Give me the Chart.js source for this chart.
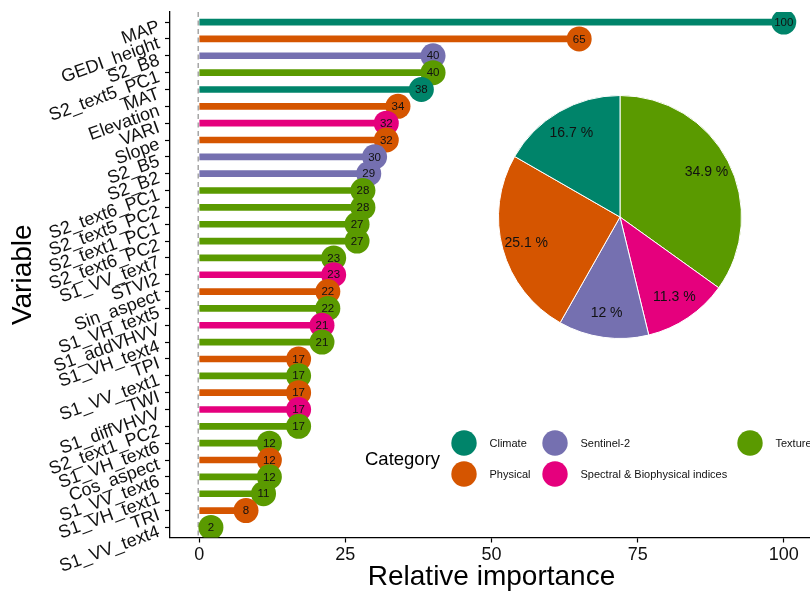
<!DOCTYPE html>
<html>
<head>
<meta charset="utf-8">
<script src="https://cdn.jsdelivr.net/npm/chart.js@4/dist/chart.umd.min.js"></script>
<style>
  html, body { margin: 0; padding: 0; background: #fff; overflow: hidden; width: 810px; height: 594px; }
  #wrap { position: relative; width: 813px; height: 594px; }
  #main { position: absolute; left: 0; top: 0; }
  #pie { position: absolute; left: 495px; top: 92px; }
</style>
</head>
<body>
<div id="wrap">
  <canvas id="main" width="813" height="594"></canvas>
  <canvas id="pie" width="250" height="250"></canvas>
</div>
<script>
// Predictor variables, ordered from most to least important
const variables = [
  'MAP', 'GEDI_height', 'S2_B8', 'S2_text5_PC1', 'MAT', 'Elevation', 'VARI', 'Slope',
  'S2_B5', 'S2_B2', 'S2_text6_PC1', 'S2_text5_PC2', 'S2_text1_PC1', 'S2_text6_PC2',
  'S1_VV_text7', 'STVI2', 'Sin_aspect', 'S1_VH_text5', 'S1_addVHVV', 'S1_VH_text4',
  'TPI', 'S1_VV_text1', 'TWI', 'S1_diffVHVV', 'S2_text1_PC2', 'S1_VH_text6',
  'Cos_aspect', 'S1_VV_text6', 'S1_VH_text1', 'TRI', 'S1_VV_text4'
];
const importance = [
  100, 65, 40, 40, 38, 34, 32, 32,
  30, 29, 28, 28, 27, 27,
  23, 23, 22, 22, 21, 21,
  17, 17, 17, 17, 17, 12,
  12, 12, 11, 8, 2
];
const groups = [
  'Climate', 'Physical', 'Sentinel-2', 'Texture', 'Climate', 'Physical',
  'Spectral & Biophysical indices', 'Physical',
  'Sentinel-2', 'Sentinel-2', 'Texture', 'Texture', 'Texture', 'Texture',
  'Texture', 'Spectral & Biophysical indices', 'Physical', 'Texture',
  'Spectral & Biophysical indices', 'Texture',
  'Physical', 'Texture', 'Physical', 'Spectral & Biophysical indices', 'Texture', 'Texture',
  'Physical', 'Texture', 'Texture', 'Physical', 'Texture'
];

const categories = ['Climate', 'Physical', 'Sentinel-2', 'Spectral & Biophysical indices', 'Texture'];
const categoryColors = ['#00846a', '#d55500', '#7570b0', '#e5007d', '#5a9a00'];
const xTicks = [0, 25, 50, 75, 100];

// Share of total importance per category (%), in drawing order from 12 o'clock
const pieLabels = ['Texture', 'Spectral & Biophysical indices', 'Sentinel-2', 'Physical', 'Climate'];
const pieShares = [34.9, 11.3, 12, 25.1, 16.7];

const FONT = "'Liberation Sans', Arial, Helvetica, sans-serif";
Chart.defaults.font.family = FONT;
Chart.defaults.color = '#000';

const colorOf = g => categoryColors[categories.indexOf(g)];
const rows = variables.map((v, i) => ({ x: importance[i], y: i }));
const rowColors = groups.map(colorOf);

// keep the plot panel at a fixed size: no extra room reserved for overhanging tick labels
function fixBox(size, horizontal) {
  return s => {
    if (horizontal) s.height = size; else s.width = size;
    s.paddingLeft = 0; s.paddingRight = 0; s.paddingTop = 0; s.paddingBottom = 0;
  };
}

// dashed reference line at zero
const zeroLine = {
  id: 'zeroLine',
  beforeDatasetsDraw(chart) {
    const { ctx, chartArea, scales } = chart;
    const x = scales.x.getPixelForValue(0);
    ctx.save();
    ctx.strokeStyle = '#a6a6a6';
    ctx.lineWidth = 1.5;
    ctx.setLineDash([5, 3.5]);
    ctx.beginPath();
    ctx.moveTo(x - 1, chartArea.top);
    ctx.lineTo(x - 1, chartArea.bottom);
    ctx.stroke();
    ctx.restore();
  }
};

// importance value written inside each lollipop head
const valueLabels = {
  id: 'valueLabels',
  afterDatasetsDraw(chart) {
    const { ctx, chartArea } = chart;
    const meta = chart.getDatasetMeta(1);
    ctx.save();
    ctx.beginPath();
    ctx.rect(chartArea.left, chartArea.top, chartArea.width, chartArea.height);
    ctx.clip();
    ctx.font = '11.5px ' + FONT;
    ctx.fillStyle = '#111';
    ctx.textAlign = 'center';
    ctx.textBaseline = 'middle';
    meta.data.forEach((pt, i) => {
      ctx.fillText(String(importance[i]), pt.x, pt.y + 0.5);
    });
    ctx.restore();
  }
};

// category legend in the lower right
const categoryLegend = {
  id: 'categoryLegend',
  afterDraw(chart) {
    const ctx = chart.ctx;
    const colX = [464, 555, 750];
    const rowY = [443, 474];
    ctx.save();
    ctx.fillStyle = '#000';
    ctx.font = '18.5px ' + FONT;
    ctx.textAlign = 'left';
    ctx.textBaseline = 'middle';
    ctx.fillText('Category', 365, 460);
    ctx.font = '11px ' + FONT;
    categories.forEach((c, i) => {
      const cx = colX[Math.floor(i / 2)];
      const cy = rowY[i % 2];
      ctx.beginPath();
      ctx.arc(cx, cy, 12.7, 0, Math.PI * 2);
      ctx.fillStyle = categoryColors[i];
      ctx.fill();
      ctx.fillStyle = '#111';
      ctx.fillText(c, cx + 25.5, cy + 0.5);
    });
    ctx.restore();
  }
};

new Chart(document.getElementById('main'), {
  type: 'bar',
  data: {
    datasets: [
      {
        type: 'bar',
        data: rows,
        backgroundColor: rowColors,
        barThickness: 6,
        borderWidth: 0,
        clip: 0,
        order: 2
      },
      {
        type: 'scatter',
        data: rows,
        backgroundColor: rowColors,
        pointRadius: 12.5,
        pointHoverRadius: 12.5,
        borderWidth: 0,
        clip: 0,
        order: 1
      }
    ]
  },
  options: {
    indexAxis: 'y',
    responsive: false,
    animation: false,
    events: [],
    layout: { autoPadding: false, padding: { top: 12, left: 0, right: 0, bottom: 0 } },
    plugins: { legend: { display: false }, tooltip: { enabled: false } },
    scales: {
      x: {
        type: 'linear',
        min: -5,
        max: 105,
        afterBuildTicks: s => { s.ticks = xTicks.map(v => ({ value: v })); },
        afterFit: fixBox(56.5, true),
        grid: { drawOnChartArea: false, drawTicks: true, tickLength: 5, tickColor: '#000', tickWidth: 1.2 },
        border: { display: true, color: '#000', width: 1.3 },
        ticks: { font: { size: 18 }, padding: 2, color: '#111', maxRotation: 0, minRotation: 0 },
        title: { display: true, text: 'Relative importance', font: { size: 28 }, color: '#000', padding: { top: 0, bottom: 0 } }
      },
      y: {
        type: 'linear',
        reverse: true,
        offset: false,
        min: -0.6,
        max: 30.6,
        afterBuildTicks: s => { s.ticks = variables.map((_, i) => ({ value: i })); },
        afterFit: fixBox(170, false),
        grid: { offset: false, drawOnChartArea: false, drawTicks: true, tickLength: 5, tickColor: '#000', tickWidth: 1.2 },
        border: { display: true, color: '#000', width: 1.3 },
        ticks: {
          callback: v => variables[v],
          autoSkip: false,
          minRotation: 20,
          maxRotation: 20,
          labelOffset: 4,
          padding: 6,
          font: { size: 18 },
          color: '#111'
        },
        title: { display: true, text: 'Variable', font: { size: 28 }, color: '#000', padding: { top: 6, bottom: 0 } }
      }
    }
  },
  plugins: [zeroLine, valueLabels, categoryLegend]
});

// percentage written inside each slice
const sliceLabels = {
  id: 'sliceLabels',
  afterDatasetsDraw(chart) {
    const ctx = chart.ctx;
    const meta = chart.getDatasetMeta(0);
    ctx.save();
    ctx.font = '14px ' + FONT;
    ctx.fillStyle = '#111';
    ctx.textAlign = 'center';
    ctx.textBaseline = 'middle';
    meta.data.forEach((arc, i) => {
      const p = arc.getProps(['x', 'y', 'startAngle', 'endAngle', 'outerRadius'], true);
      const mid = (p.startAngle + p.endAngle) / 2;
      const r = p.outerRadius * 0.8;
      ctx.fillText(pieShares[i] + ' %', p.x + Math.cos(mid) * r, p.y + Math.sin(mid) * r);
    });
    ctx.restore();
  }
};

new Chart(document.getElementById('pie'), {
  type: 'pie',
  data: {
    labels: pieLabels,
    datasets: [{
      data: pieShares,
      backgroundColor: pieLabels.map(colorOf),
      borderColor: '#ffffff',
      borderWidth: 1
    }]
  },
  options: {
    responsive: false,
    animation: false,
    events: [],
    layout: { padding: 3 },
    plugins: { legend: { display: false }, tooltip: { enabled: false } }
  },
  plugins: [sliceLabels]
});
</script>
</body>
</html>
